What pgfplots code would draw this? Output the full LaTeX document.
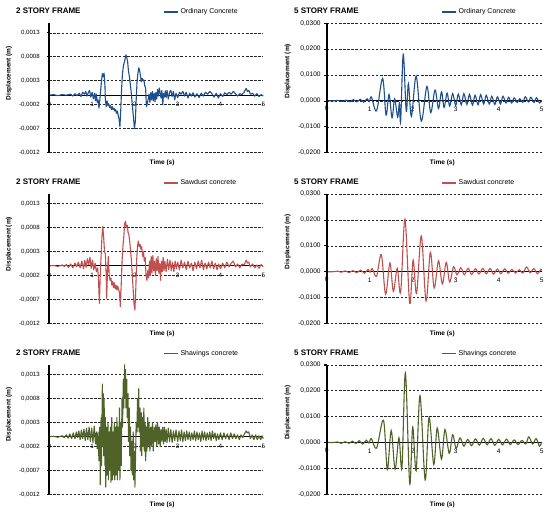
\documentclass[border=0pt]{standalone}
\usepackage{fontspec}
\setmainfont{Liberation Sans}
\usepackage{pgfplots}
\pgfplotsset{compat=1.18}
\definecolor{cblue}{RGB}{31,78,140}
\definecolor{cred}{RGB}{192,80,77}
\definecolor{cgreen}{RGB}{79,98,40}
\pgfplotsset{
 frame/.style={
  scale only axis, height=129.5pt, xmin=0, xmax=5, clip=false,
  axis line style={draw=none},
  scaled y ticks=false,
  xtick={1,2,3,4,5}, xticklabels={1,2,3,4,5},
  major x tick style={draw=none}, xtick pos=bottom, ytick pos=left,
  major y tick style={black, line width=0.6pt}, major tick length=2.5pt, tick align=outside,
  ymajorgrids, major grid style={black!85, line width=0.55pt, dash pattern=on 2.5pt off 1.6pt},
  xlabel={Time (s)}, ylabel={Displacement (m)},
  xlabel style={font=\fontsize{6.5}{7}\selectfont\bfseries, anchor=center},
  ylabel style={font=\fontsize{6.5}{7}\selectfont\bfseries, anchor=center},
  legend style={draw=none, fill=none, anchor=west, font=\fontsize{7}{8}\selectfont, inner sep=0pt},
  legend image code/.code={\draw[#1, line width=1.4pt] (0pt,0pt) -- (14pt,0pt);},
  title style={anchor=west, yshift=-6pt, inner sep=0pt, font=\fontsize{8}{9}\selectfont\bfseries},
 },
 twostory/.style={frame, width=214pt,
  ymin=-0.0012, ymax=0.0015,
  ytick={-0.0012,-0.0007,-0.0002,0.0003,0.0008,0.0013},
  yticklabels={{-0,0012},{-0,0007},{-0,0002},{0,0003},{0,0008},{0,0013}},
  yticklabel style={font=\fontsize{6.1}{7}\selectfont, xshift=-3.5pt},
  xticklabel style={font=\fontsize{6.3}{7}\selectfont, yshift=56.5pt},
  title style={at={(rel axis cs:-0.156,1.093)}},
  legend style={at={(rel axis cs:0.531,1.085)}},
  xlabel style={at={(rel axis cs:0.527,-0.08)}},
  ylabel style={at={(rel axis cs:-0.188,0.614)}},
 },
 fivestory/.style={frame, width=215pt,
  ymin=-0.02, ymax=0.03,
  ytick={-0.02,-0.01,0,0.01,0.02,0.03},
  yticklabels={{-0,0200},{-0,0100},{0,0000},{0,0100},{0,0200},{0,0300}},
  yticklabel style={font=\fontsize{6.6}{7}\selectfont},
  xticklabel style={font=\fontsize{6.6}{7}\selectfont, yshift=51.8pt},
  title style={at={(rel axis cs:-0.152,1.093)}},
  legend style={at={(rel axis cs:0.532,1.085)}},
  xlabel style={at={(rel axis cs:0.538,-0.082)}},
  ylabel style={at={(rel axis cs:-0.181,0.63)}},
 },
 dat/.style={line width=1.1pt, line join=round},
 sm/.style={line width=1.1pt, smooth, tension=0.55},
}
\newcommand{\zeroline}{\draw[black, line width=1pt] (axis cs:0,0) -- (axis cs:5,0);}
% y axis line, its tick marks and the origin label, over each panel:
% #1 left x, #2 bottom y, #3 y of zero, #4 label drop, #5 font size, #6 tick spacing
\newcommand{\yaxisover}[6]{%
 \draw[black, line width=1.8pt] (#1pt,#2pt) -- (#1pt,#2pt+129.5pt);
 \foreach \k in {0,...,5} {\draw[black, line width=0.6pt] (#1pt-2.5pt,#2pt+\k*#6pt) -- (#1pt,#2pt+\k*#6pt);}
 \node[font=\fontsize{#5}{7}\selectfont, inner sep=0pt] at (#1pt,#3pt-#4pt) {0};}
\begin{document}
\begin{tikzpicture}
\useasboundingbox (0,0) rectangle (550pt,514pt);
% ---------- row 1 left
\begin{axis}[twostory, at={(49.3pt,361.3pt)}, anchor=south west, title={2 STORY FRAME}]
\zeroline
\addplot[dat, cblue] coordinates {
(0,0) (0.1,0.00001) (0.2,-0.00001) (0.3,0.00001) (0.4,0) (0.5,0.00002) (0.55,-0.00002) (0.6,0.00003) (0.65,-0.00001) (0.7,0.00004)
(0.74,-0.00003) (0.78,0.00006) (0.82,0.00002) (0.85,0.00008) (0.88,-0.00002) (0.91,0.00005) (0.94,0.0001) (0.97,-0.00004) (1.0,0.00006)
(1.03,-0.00008) (1.06,0.00004) (1.08,-0.00012) (1.1,0.00002) (1.12,-0.00015) (1.14,-0.0001) (1.16,-0.00027) (1.18,-0.0001) (1.2,0.0001)
(1.22,0.0003) (1.24,0.00045) (1.26,0.00038) (1.28,0.00046) (1.3,0.0002) (1.31,-0.0001) (1.33,-0.00024) (1.35,-0.00012) (1.37,-0.00022)
(1.39,-0.00018) (1.41,-0.00026) (1.43,-0.00022) (1.45,-0.0003) (1.47,-0.00024) (1.49,-0.0003) (1.51,-0.00027) (1.53,-0.00033) (1.55,-0.0003)
(1.57,-0.00038) (1.59,-0.00033) (1.61,-0.00042) (1.63,-0.0005) (1.65,-0.00066) (1.67,-0.0003) (1.69,0.00015) (1.71,0.00045) (1.73,0.0006)
(1.75,0.00068) (1.77,0.00075) (1.79,0.00084) (1.81,0.00078) (1.83,0.0007) (1.85,0.0005) (1.87,0.0004) (1.89,0.00025) (1.91,0.0001)
(1.93,-0.0001) (1.95,-0.0003) (1.97,-0.0005) (1.99,-0.0007) (2.01,-0.00055) (2.03,-0.0001) (2.05,0.00028) (2.07,0.00045) (2.09,0.00057)
(2.11,0.00052) (2.13,0.0004) (2.15,0.00028) (2.17,0.00035) (2.19,0.0003) (2.21,0.00032) (2.23,0.0002) (2.25,0.00015) (2.27,-0.00024)
(2.29,-0.00018) (2.31,-0.00008) (2.33,0.00002) (2.35,-0.00015) (2.37,0.00005) (2.39,-0.0001) (2.41,0.00008) (2.43,-0.00012) (2.45,0.00004)
(2.47,-0.00014) (2.49,0.00006) (2.51,-0.00008) (2.53,0.00012) (2.55,-0.00002) (2.57,0.00015) (2.59,0.00005) (2.61,-0.00006) (2.63,0.0001)
(2.65,-0.0002) (2.67,0.00003) (2.69,-0.00004) (2.71,0.00009) (2.73,-0.00005) (2.75,0.0001) (2.78,-0.00008) (2.81,0.00006) (2.84,0.0001)
(2.87,-0.00003) (2.9,0.00008) (2.93,-0.0001) (2.96,0.00004) (3.0,-0.00005) (3.04,0.00006) (3.08,0.00002) (3.12,0.00008) (3.16,-0.00002)
(3.2,0.00006) (3.24,-0.00006) (3.28,0.00004) (3.32,-0.00002) (3.36,0.00005) (3.4,-0.00004) (3.45,0.00003) (3.5,-0.00005) (3.55,0.00004)
(3.6,-0.00002) (3.65,0.00006) (3.7,0.00002) (3.75,0.00008) (3.8,0.00003) (3.85,-0.00004) (3.9,0.00004) (3.95,-0.00006) (4.0,0.00003)
(4.05,-0.00003) (4.1,0.00005) (4.15,0.00001) (4.2,0.00006) (4.25,0.00002) (4.3,0.00008) (4.35,0.00003) (4.4,-0.00002) (4.45,0.00003)
(4.5,0.00001) (4.55,0.00006) (4.6,0.00014) (4.63,0.00008) (4.66,0.0001) (4.7,0.00002) (4.75,0.00004) (4.8,-0.00002) (4.85,0.00003)
(4.9,-0.00003) (4.95,0.00001) (5.0,-0.00002)};
\addlegendentry{Ordinary Concrete}
\end{axis}
\yaxisover{49.3}{361.3}{418.86}{9.3}{6.3}{23.98}
% ---------- row 1 right
\begin{axis}[fivestory, at={(326.7pt,361.3pt)}, anchor=south west, title={5 STORY FRAME}]
\zeroline
\addplot[sm, cblue] coordinates {
(0,0) (0.15,0) (0.25,0.0002) (0.35,-0.0002) (0.45,0.0003) (0.55,-0.0003) (0.62,0.0005) (0.7,-0.0004) (0.78,0.0006) (0.86,-0.0005)
(0.94,0.0008) (0.99,-0.0002) (1.04,0.0015) (1.16,-0.0038) (1.3,0.0087) (1.38,-0.0055) (1.45,0.0025) (1.52,-0.0065) (1.58,0.0008)
(1.65,-0.0063) (1.69,-0.001) (1.72,-0.0078) (1.78,0.018) (1.85,-0.004) (1.9,0.0066) (1.97,-0.006) (2.08,0.0096) (2.2,-0.0078)
(2.33,0.0056) (2.42,-0.0045) (2.52,0.0042) (2.6,-0.003) (2.67,0.0035) (2.73,-0.0025) (2.8,0.003) (2.86,-0.002) (2.93,0.0028)
(3.0,-0.0018) (3.06,0.0026) (3.13,-0.0015) (3.19,0.0028) (3.26,-0.0014) (3.32,0.0025) (3.39,-0.0016) (3.45,0.0022) (3.52,-0.0015)
(3.58,0.0024) (3.65,-0.0012) (3.71,0.0022) (3.78,-0.0012) (3.84,0.0018) (3.91,-0.0014) (3.97,0.0016) (4.04,-0.0012) (4.1,0.0018)
(4.17,-0.0008) (4.23,0.0014) (4.3,-0.0008) (4.36,0.0012) (4.43,-0.0006) (4.49,0.0008) (4.56,-0.0006) (4.62,0.0016) (4.69,-0.0004)
(4.75,0.0014) (4.82,-0.0006) (4.88,0.0012) (4.95,-0.0008) (5.0,0.0002)};
\addlegendentry{Ordinary Concrete}
\end{axis}
\yaxisover{326.7}{361.3}{413.1}{7.6}{6.6}{25.9}
% ---------- row 2 left
\begin{axis}[twostory, at={(49.3pt,190.5pt)}, anchor=south west, title={2 STORY FRAME}]
\zeroline
\addplot[dat, cred] coordinates {
(0,0) (0.1,0.00001) (0.2,-0.00001) (0.3,0.00002) (0.35,-0.00001) (0.4,0.00003) (0.45,-0.00003) (0.5,0.00004) (0.55,-0.00004) (0.6,0.00006)
(0.64,-0.00002) (0.68,0.00008) (0.72,-0.00004) (0.76,0.0001) (0.8,-0.00006) (0.83,0.00012) (0.86,-0.00003) (0.89,0.00015) (0.92,0.00002)
(0.95,0.00018) (0.98,-0.00005) (1.01,0.00012) (1.04,-0.00008) (1.07,0.00006) (1.1,-0.00012) (1.13,-0.00004) (1.15,-0.0003) (1.17,-0.00078)
(1.19,-0.0002) (1.21,0.0002) (1.23,0.0006) (1.25,0.00082) (1.27,0.0006) (1.29,0.0003) (1.31,0.00025) (1.33,-0.0002) (1.34,-0.00068)
(1.36,-0.0001) (1.38,0.0002) (1.4,-0.0002) (1.42,-0.0003) (1.44,-0.00025) (1.46,-0.0004) (1.48,-0.00032) (1.5,-0.00045) (1.52,-0.00035)
(1.54,-0.00048) (1.56,-0.0004) (1.58,-0.0005) (1.6,-0.00042) (1.62,-0.0005) (1.64,-0.00055) (1.66,-0.00085) (1.68,-0.0004) (1.7,0.0001)
(1.72,0.0004) (1.74,0.0006) (1.76,0.00088) (1.78,0.00093) (1.8,0.0008) (1.82,0.00085) (1.84,0.0007) (1.86,0.00065) (1.88,0.0005)
(1.9,0.0003) (1.92,0.0001) (1.94,-0.0002) (1.96,-0.0005) (1.98,-0.0008) (2.0,-0.00092) (2.02,-0.0005) (2.04,0.0001) (2.06,0.0004)
(2.08,0.00052) (2.1,0.0004) (2.12,0.00045) (2.14,0.00035) (2.16,0.0004) (2.18,0.0002) (2.2,0.0003) (2.22,0.0001) (2.24,0.00018)
(2.26,-0.0002) (2.28,-0.0003) (2.3,-0.0001) (2.32,-0.00025) (2.34,0.0001) (2.36,-0.0002) (2.38,0.0002) (2.4,-0.00015) (2.42,0.00022)
(2.44,-0.0001) (2.46,0.0001) (2.48,-0.0002) (2.5,0.00015) (2.52,-0.0001) (2.54,0.0002) (2.56,-0.00015) (2.58,0.00005) (2.6,-0.0003)
(2.62,0.0001) (2.64,-0.00012) (2.66,0.00018) (2.68,-0.0001) (2.7,0.0001) (2.73,-0.00012) (2.76,0.00014) (2.79,-0.00008) (2.82,0.00012)
(2.85,-0.0001) (2.88,0.00008) (2.91,-0.00012) (2.94,0.0001) (2.97,-0.00006) (3.0,0.00008) (3.04,-0.00008) (3.08,0.00012) (3.12,-0.00004)
(3.16,0.00008) (3.2,-0.00008) (3.24,0.0001) (3.28,-0.00004) (3.32,0.00006) (3.36,-0.0001) (3.4,0.00008) (3.44,-0.00006) (3.48,0.0001)
(3.52,-0.00004) (3.56,0.00012) (3.6,-0.00008) (3.64,0.00006) (3.68,-0.00006) (3.72,0.00008) (3.76,-0.00004) (3.8,0.0001) (3.84,-0.00006)
(3.88,0.00006) (3.92,-0.00008) (3.96,0.00004) (4.0,-0.00006) (4.05,0.00006) (4.1,-0.00004) (4.15,0.00008) (4.2,-0.00002) (4.25,0.00006)
(4.3,0.0001) (4.35,-0.00002) (4.4,0.00004) (4.45,-0.00004) (4.5,0.00004) (4.55,0.00002) (4.6,0.00012) (4.63,0.00006) (4.66,0.00008)
(4.7,-0.00002) (4.75,0.00004) (4.8,-0.00004) (4.85,0.00002) (4.9,-0.00005) (4.95,0.00003) (5.0,-0.00002)};
\addlegendentry{Sawdust concrete}
\end{axis}
\yaxisover{49.3}{190.5}{248.06}{9.3}{6.3}{23.98}
% ---------- row 2 right
\begin{axis}[fivestory, at={(326.7pt,190.5pt)}, anchor=south west, title={5 STORY FRAME}]
\zeroline
\addplot[sm, cred] coordinates {
(0,0) (0.15,0) (0.25,0.0002) (0.34,-0.0002) (0.43,0.0003) (0.52,-0.0003) (0.61,0.0004) (0.7,-0.0004) (0.79,0.0006) (0.88,-0.0006)
(0.96,0.0009) (1.01,-0.0002) (1.06,0.0012) (1.16,-0.0018) (1.27,0.0066) (1.37,-0.0087) (1.47,0.0034) (1.55,-0.0076) (1.64,0.0013)
(1.72,-0.0079) (1.82,0.0203) (1.93,-0.0122) (2.01,0.0045) (2.09,-0.0084) (2.2,0.0138) (2.31,-0.0113) (2.41,0.0075) (2.5,-0.0063)
(2.6,0.0042) (2.69,-0.0047) (2.78,0.0036) (2.86,-0.004) (2.95,0.0019) (3.03,-0.0012) (3.12,0.0015) (3.2,-0.0012) (3.29,0.0013)
(3.37,-0.0011) (3.46,0.0012) (3.54,-0.0009) (3.63,0.0013) (3.71,-0.0008) (3.8,0.0012) (3.88,-0.0009) (3.97,0.001) (4.05,-0.0008)
(4.14,0.0011) (4.22,-0.0006) (4.31,0.0009) (4.39,-0.0005) (4.48,0.0008) (4.56,-0.0005) (4.65,0.0018) (4.73,-0.0004) (4.82,0.0012)
(4.9,-0.0008) (4.98,0.0009) (5.0,0.0005)};
\addlegendentry{Sawdust concrete}
\end{axis}
\yaxisover{326.7}{190.5}{242.3}{7.6}{6.6}{25.9}
% ---------- row 3 left
\begin{axis}[twostory, at={(49.3pt,19.7pt)}, anchor=south west, title={2 STORY FRAME}]
\zeroline
\addplot[dat, cgreen] coordinates {
(0,0) (0.1,0.00001) (0.2,-0.00001) (0.3,0.00002) (0.35,-0.00002) (0.4,0.00004) (0.44,-0.00003) (0.48,0.00006) (0.52,-0.00004) (0.56,0.00008)
(0.6,-0.00004) (0.63,0.0001) (0.66,-0.00002) (0.69,0.00012) (0.72,-0.00006) (0.75,0.00014) (0.78,-0.00004) (0.81,0.00016) (0.84,-0.00008)
(0.87,0.00018) (0.9,-0.00006) (0.93,0.0002) (0.96,-0.0001) (0.99,0.00018) (1.02,-0.00012) (1.05,0.00022) (1.08,-0.00015) (1.1,0.0001)
(1.12,-0.00025) (1.14,0.0001) (1.16,-0.0005) (1.18,0.0002) (1.19,-0.001) (1.21,0.0004) (1.22,-0.0006) (1.24,0.0011) (1.25,-0.0002)
(1.26,0.0009) (1.27,-0.0004) (1.28,0.0008) (1.3,-0.0006) (1.31,0.0004) (1.32,-0.00105) (1.34,0.0002) (1.35,-0.0008) (1.37,0.0003)
(1.38,-0.0009) (1.4,0.0001) (1.41,-0.0007) (1.43,0.0002) (1.44,-0.00095) (1.46,0.0004) (1.47,-0.0009) (1.49,0.0001) (1.5,-0.0008)
(1.52,0.0003) (1.53,-0.0009) (1.55,0.0002) (1.56,-0.0008) (1.58,0.0004) (1.59,-0.0009) (1.61,0.0002) (1.62,-0.0007) (1.64,0.0006)
(1.65,-0.0009) (1.67,0.0003) (1.68,-0.0006) (1.7,0.0008) (1.71,0.0002) (1.73,0.0012) (1.74,0.0006) (1.76,0.0015) (1.77,0.0008)
(1.78,0.0014) (1.79,0.0006) (1.81,0.0012) (1.82,0.0004) (1.84,0.0009) (1.85,-0.0001) (1.87,0.0006) (1.88,-0.0004) (1.9,0.0002)
(1.91,-0.0007) (1.93,-0.0001) (1.94,-0.0008) (1.96,0.0001) (1.97,-0.0009) (1.99,-0.0003) (2.0,-0.00105) (2.02,-0.0002) (2.03,0.0003)
(2.05,0.0001) (2.06,0.0008) (2.07,0.0002) (2.09,0.001) (2.1,0.0001) (2.12,0.0006) (2.13,-0.0003) (2.15,0.0005) (2.16,-0.0004)
(2.18,0.0004) (2.19,-0.0002) (2.21,0.0006) (2.22,-0.0003) (2.24,0.0003) (2.25,-0.0005) (2.27,0.0002) (2.28,-0.0003) (2.3,0.0004)
(2.31,-0.0002) (2.33,0.0003) (2.35,-0.0003) (2.37,0.0002) (2.39,-0.0002) (2.41,0.0003) (2.43,-0.0003) (2.45,0.0002) (2.47,-0.0001)
(2.49,0.00025) (2.51,-0.0002) (2.53,0.0003) (2.55,-0.00015) (2.57,0.0002) (2.59,-0.0002) (2.61,0.00015) (2.63,-0.0001) (2.65,0.0002)
(2.67,-0.00015) (2.69,0.0002) (2.71,-0.0001) (2.73,0.00015) (2.75,-0.00012) (2.78,0.00018) (2.81,-0.0001) (2.84,0.00015) (2.87,-0.00012)
(2.9,0.00012) (2.93,-0.00008) (2.96,0.00014) (3.0,-0.0001) (3.03,0.00012) (3.06,-0.00008) (3.09,0.00014) (3.12,-0.0001) (3.15,0.0001)
(3.18,-0.00008) (3.21,0.00012) (3.24,-0.00006) (3.27,0.0001) (3.3,-0.00008) (3.33,0.00008) (3.36,-0.00006) (3.39,0.00012) (3.42,-0.00008)
(3.45,0.0001) (3.48,-0.00006) (3.51,0.00008) (3.54,-0.0001) (3.57,0.00012) (3.6,-0.00006) (3.63,0.0001) (3.66,-0.00008) (3.69,0.00008)
(3.72,-0.00006) (3.75,0.0001) (3.78,-0.00008) (3.81,0.00012) (3.84,-0.00004) (3.87,0.00008) (3.9,-0.00008) (3.93,0.00006) (3.96,-0.00006)
(4.0,0.00008) (4.04,-0.00006) (4.08,0.00008) (4.12,-0.00004) (4.16,0.00006) (4.2,-0.00006) (4.24,0.00008) (4.28,-0.00004) (4.32,0.00006)
(4.36,-0.00004) (4.4,0.00004) (4.44,-0.00006) (4.48,0.00004) (4.52,-0.00002) (4.56,0.00006) (4.6,0.00012) (4.63,0.00008) (4.66,0.0001)
(4.7,-0.00004) (4.74,0.00004) (4.78,-0.00006) (4.82,0.00004) (4.86,-0.00006) (4.9,0.00002) (4.94,-0.00006) (4.97,0.00002) (5.0,-0.00004)};
\addlegendentry{Shavings concrete}
\end{axis}
\yaxisover{49.3}{19.7}{77.26}{9.3}{6.3}{23.98}
% ---------- row 3 right
\begin{axis}[fivestory, at={(326.7pt,19.7pt)}, anchor=south west, title={5 STORY FRAME}]
\zeroline
\addplot[sm, cgreen] coordinates {
(0,0) (0.15,0) (0.25,0.0002) (0.34,-0.0003) (0.43,0.0003) (0.52,-0.0003) (0.6,0.0005) (0.68,-0.0004) (0.76,0.0007) (0.84,-0.0006)
(0.92,0.0009) (0.98,-0.0002) (1.04,0.0015) (1.16,-0.0022) (1.32,0.0086) (1.41,-0.0104) (1.5,0.0046) (1.59,-0.0103) (1.68,0.0018)
(1.75,-0.0096) (1.83,0.0269) (1.93,-0.0158) (2.0,0.006) (2.08,-0.0109) (2.17,0.0181) (2.29,-0.0145) (2.38,0.0097) (2.49,-0.0085)
(2.57,0.0056) (2.67,-0.0064) (2.75,0.005) (2.85,-0.0042) (2.93,0.003) (3.01,-0.0023) (3.1,0.0018) (3.19,-0.0014) (3.28,0.0012)
(3.37,-0.0012) (3.46,0.0014) (3.55,-0.001) (3.64,0.0016) (3.73,-0.0009) (3.82,0.0015) (3.91,-0.0011) (4.0,0.0012) (4.09,-0.0009)
(4.18,0.0013) (4.27,-0.0008) (4.36,0.001) (4.45,-0.0008) (4.54,0.0008) (4.63,-0.0006) (4.7,0.0022) (4.79,-0.0006) (4.87,0.0015)
(4.95,-0.0014) (5.0,0.0002)};
\addlegendentry{Shavings concrete}
\end{axis}
\yaxisover{326.7}{19.7}{71.5}{7.6}{6.6}{25.9}
\end{tikzpicture}
\end{document}
